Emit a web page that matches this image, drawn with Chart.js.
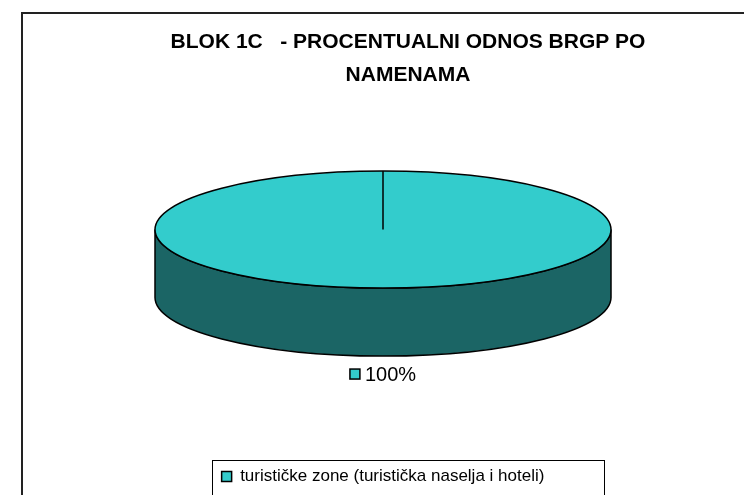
<!DOCTYPE html>
<html>
<head>
<meta charset="utf-8">
<script src="https://cdn.jsdelivr.net/npm/chart.js@4/dist/chart.umd.min.js"></script>
<style>
  html, body { margin: 0; padding: 0; background: #fff; }
  #wrap { width: 744px; height: 495px; position: relative; }
</style>
</head>
<body>
<div id="wrap"><canvas id="pieChart"></canvas></div>
<script>
// Chart data
const titleLines = ['BLOK 1C   - PROCENTUALNI ODNOS BRGP PO', 'NAMENAMA'];
const categories = ['turističke zone (turistička naselja i hoteli)'];
const shares = [100];

const FONT = '"Liberation Sans", Arial, sans-serif';
const topColor = '#33cccc';
const sideColor = '#1b6565';
const TILT = 58.5 / 228; // how flat the top face looks
const DEPTH = 68;        // height of the side wall

// empty box on the right so the pie sits left of the title centre
const rightSpacer = {
    position: 'right', weight: 0, fullSize: false, options: {},
    width: 0, height: 0, left: 0, right: 0, top: 0, bottom: 0,
    isHorizontal() { return false; },
    update(maxWidth, maxHeight) { this.width = 50; this.height = maxHeight; },
    draw() {}
};

const pie3d = {
    id: 'pie3d',
    beforeInit(chart) {
        Chart.layouts.addBox(chart, rightSpacer);
    },
    beforeDraw(chart) {
        const ctx = chart.ctx;
        ctx.save();
        ctx.strokeStyle = '#222';
        ctx.lineWidth = 2;
        ctx.strokeRect(22, 13, 800, 600);
        ctx.restore();
    },
    beforeDatasetsDraw(chart) {
        const arc = chart.getDatasetMeta(0).data[0];
        const { x, y } = arc;
        const rx = arc.outerRadius;
        const ry = rx * TILT;
        const ctx = chart.ctx;

        // side wall
        ctx.save();
        ctx.beginPath();
        ctx.moveTo(x - rx, y);
        ctx.lineTo(x - rx, y + DEPTH);
        ctx.ellipse(x, y + DEPTH, rx, ry, 0, Math.PI, 0, true);
        ctx.lineTo(x + rx, y);
        ctx.ellipse(x, y, rx, ry, 0, 0, Math.PI, false);
        ctx.closePath();
        ctx.fillStyle = sideColor;
        ctx.fill();
        ctx.strokeStyle = '#000';
        ctx.lineWidth = 1.5;
        ctx.stroke();
        ctx.restore();

        // squash the pie the library draws into an ellipse
        ctx.save();
        ctx.translate(x, y);
        ctx.scale(1, TILT);
        ctx.translate(-x, -y);
    },
    afterDatasetsDraw(chart) {
        const ctx = chart.ctx;
        ctx.restore();
        const arc = chart.getDatasetMeta(0).data[0];
        const { x, y } = arc;
        const rx = arc.outerRadius;
        const ry = rx * TILT;

        ctx.save();
        ctx.strokeStyle = '#000';
        ctx.lineWidth = 1.5;
        ctx.beginPath();
        ctx.ellipse(x, y, rx, ry, 0, 0, Math.PI * 2);
        ctx.stroke();
        ctx.beginPath();
        ctx.moveTo(x, y - ry);
        ctx.lineTo(x, y);
        ctx.stroke();
        ctx.restore();
    },
    afterDraw(chart) {
        const ctx = chart.ctx;
        const arc = chart.getDatasetMeta(0).data[0];
        const { x, y } = arc;
        const ry = arc.outerRadius * TILT;

        // percentage label under the pie
        const total = shares.reduce((a, b) => a + b, 0);
        const txt = Math.round(shares[0] / total * 100) + '%';
        ctx.save();
        ctx.font = '20px ' + FONT;
        const tw = ctx.measureText(txt).width;
        const box = 10, gap = 5;
        const left = x - (box + gap + tw) / 2;
        const ly = y + DEPTH + ry + 18;
        ctx.fillStyle = topColor;
        ctx.fillRect(left, ly - 5, box, box);
        ctx.strokeStyle = '#000';
        ctx.lineWidth = 1.5;
        ctx.strokeRect(left, ly - 5, box, box);
        ctx.fillStyle = '#000';
        ctx.textBaseline = 'middle';
        ctx.fillText(txt, left + box + gap, ly + 1);

        // legend frame
        ctx.lineWidth = 1;
        ctx.strokeRect(212.5, 460.5, 392, 60);
        ctx.restore();
    }
};

new Chart(document.getElementById('pieChart'), {
    type: 'pie',
    data: {
        labels: categories,
        datasets: [{
            data: shares,
            backgroundColor: topColor,
            borderWidth: 0,
            clip: false
        }]
    },
    options: {
        responsive: true,
        maintainAspectRatio: false,
        animation: false,
        events: [],
        radius: 228,
        layout: { padding: { left: 72, right: 0, top: 0, bottom: 0 } },
        plugins: {
            title: {
                display: true,
                text: titleLines,
                color: '#000',
                font: { family: FONT, size: 21, weight: 'bold', lineHeight: 1.55 },
                padding: { top: 26, bottom: 0 }
            },
            legend: {
                position: 'bottom',
                fullSize: false,
                labels: {
                    color: '#000',
                    font: { family: FONT, size: 17 },
                    boxWidth: 10,
                    boxHeight: 10,
                    padding: 100,
                    generateLabels(chart) {
                        const items = Chart.overrides.doughnut.plugins.legend.labels.generateLabels(chart);
                        items.forEach(it => { it.strokeStyle = '#000'; it.lineWidth = 1.5; });
                        return items;
                    }
                }
            },
            tooltip: { enabled: false }
        }
    },
    plugins: [pie3d]
});
</script>
</body>
</html>
